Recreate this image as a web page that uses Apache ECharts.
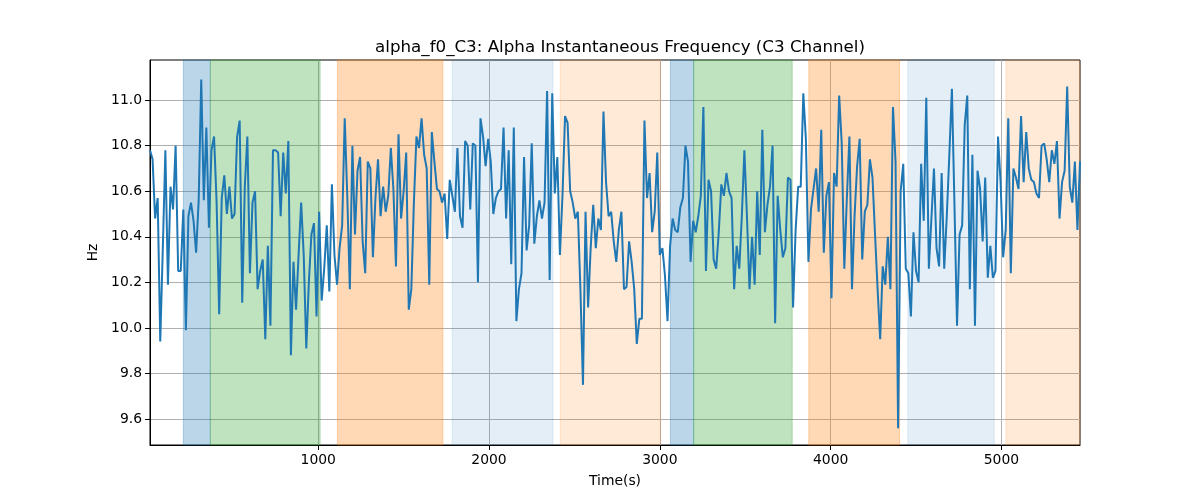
<!DOCTYPE html>
<html>
<head>
<meta charset="utf-8">
<script src="https://cdn.jsdelivr.net/npm/echarts@6/dist/echarts.min.js"></script>
<style>html,body{margin:0;padding:0;background:#fff}#c{width:1200px;height:500px}</style>
</head>
<body>
<div id="c"></div>
<script>
// Sampling: first sample time and step (seconds)
const startTime = 15;
const stepTime = 15;

// Alpha instantaneous frequency values (Hz)
const freqValues = [
10.78,10.74,10.48,10.57,9.94,10.35,10.78,10.19,10.62,10.52,
10.80,10.25,10.25,10.52,9.99,10.49,10.55,10.47,10.33,10.56,
11.09,10.56,10.88,10.44,10.78,10.84,10.55,10.06,10.57,10.67,
10.50,10.62,10.48,10.50,10.84,10.91,10.11,10.62,10.84,10.24,
10.55,10.60,10.17,10.25,10.30,9.95,10.36,10.01,10.78,10.78,
10.77,10.49,10.77,10.59,10.82,9.88,10.29,10.08,10.32,10.55,
10.32,9.91,10.20,10.41,10.46,10.05,10.51,10.12,10.26,10.45,
10.16,10.63,10.32,10.19,10.35,10.45,10.92,10.58,10.17,10.80,
10.41,10.69,10.75,10.38,10.24,10.73,10.70,10.31,10.57,10.74,
10.49,10.62,10.51,10.58,10.79,10.61,10.27,10.85,10.48,10.60,
10.77,10.08,10.17,10.55,10.84,10.79,10.92,10.76,10.70,10.19,
10.86,10.73,10.61,10.60,10.55,10.59,10.39,10.65,10.58,10.51,
10.79,10.49,10.44,10.82,10.80,10.52,10.81,10.80,10.20,10.92,
10.84,10.71,10.83,10.73,10.50,10.57,10.60,10.61,10.88,10.48,
10.78,10.28,10.88,10.03,10.17,10.24,10.75,10.34,10.45,10.81,
10.37,10.49,10.56,10.48,10.55,11.04,10.21,11.03,10.59,10.75,
10.32,10.58,10.93,10.90,10.60,10.55,10.48,10.51,10.17,9.75,
10.51,10.09,10.35,10.54,10.35,10.48,10.43,10.95,10.64,10.49,
10.51,10.38,10.29,10.43,10.51,10.17,10.18,10.38,10.29,10.17,
9.93,10.04,10.04,10.91,10.57,10.68,10.42,10.51,10.77,10.32,
10.35,10.23,10.03,10.36,10.48,10.43,10.42,10.53,10.57,10.80,
10.73,10.29,10.47,10.42,10.49,10.58,10.97,10.25,10.65,10.60,
10.30,10.26,10.42,10.63,10.58,10.68,10.60,10.57,10.17,10.36,
10.26,10.49,10.78,10.49,10.17,10.40,10.19,10.60,10.32,10.87,
10.42,10.54,10.62,10.80,10.02,10.58,10.43,10.31,10.35,10.66,
10.65,10.09,10.43,10.62,10.62,11.03,10.83,10.29,10.52,10.61,
10.70,10.51,10.87,10.33,10.58,10.64,10.13,10.68,10.62,11.02,
10.81,10.26,10.57,10.84,10.17,10.49,10.71,10.83,10.30,10.51,
10.54,10.74,10.66,10.41,10.17,9.95,10.27,10.19,10.40,10.17,
10.97,10.73,9.56,10.60,10.72,10.26,10.24,10.05,10.42,10.25,
10.20,10.72,10.47,11.01,10.26,10.48,10.70,10.35,10.27,10.68,
10.26,10.49,10.76,11.05,10.54,10.01,10.41,10.45,10.89,11.02,
10.17,10.76,10.01,10.69,10.61,10.38,10.66,10.22,10.36,10.22,
10.25,10.84,10.64,10.31,10.43,10.92,10.24,10.70,10.66,10.61,
10.93,10.64,10.86,10.70,10.65,10.64,10.59,10.57,10.80,10.81,
10.74,10.64,10.78,10.72,10.82,10.48,10.64,10.69,11.06,10.62,
10.55,10.73,10.43,10.73
];

// Shaded stage intervals (seconds) and their kind
const bandStarts = [210, 368, 1112, 1784, 2417, 3062, 3198, 3872, 4452, 5026];
const bandEnds   = [368, 1011, 1730, 2374, 3003, 3198, 3775, 4404, 4958, 5460];
const bandKinds  = ['blue','green','orange','lightblue','lightorange','blue','green','orange','lightblue','lightorange'];

// Tick labels
const xTicks = [1000, 2000, 3000, 4000, 5000];
const yTicks = [9.6, 9.8, 10.0, 10.2, 10.4, 10.6, 10.8, 11.0];

const titleText = 'alpha_f0_C3: Alpha Instantaneous Frequency (C3 Channel)';

// styles
const bandColor = {
  blue: 'rgba(31,119,180,0.3)',
  green: 'rgba(44,160,44,0.3)',
  orange: 'rgba(255,127,14,0.3)',
  lightblue: 'rgba(31,119,180,0.12)',
  lightorange: 'rgba(255,127,14,0.16)'
};

const seriesData = freqValues.map((v, i) => [startTime + stepTime * i, v]);
const markData = bandStarts.map((s, i) => [
  { xAxis: s, itemStyle: { color: bandColor[bandKinds[i]], borderColor: bandColor[bandKinds[i]], borderWidth: 1 } },
  { xAxis: bandEnds[i] }
]);

const FONT = 'DejaVu Sans';
const chart = echarts.init(document.getElementById('c'), null, { renderer: 'canvas' });
chart.setOption({
  animation: false,
  backgroundColor: '#ffffff',
  title: {
    text: titleText,
    left: 615, top: 34, textAlign: 'center',
    textStyle: { fontFamily: FONT, fontSize: 16.7, fontWeight: 'normal', color: '#000' }
  },
  grid: { left: 150, right: 120, top: 60, bottom: 55, show: true, borderColor: '#000', borderWidth: 1, backgroundColor: 'transparent' },
  xAxis: {
    type: 'value', min: 15, max: 5460,
    name: 'Time(s)', nameLocation: 'middle', nameGap: 29,
    nameTextStyle: { fontFamily: FONT, fontSize: 13.9, color: '#000' },
    axisLine: { show: true, onZero: false, lineStyle: { color: '#000', width: 1 } },
    axisTick: { show: true, customValues: xTicks, length: 5, lineStyle: { color: '#000' } },
    axisLabel: { customValues: xTicks, margin: 8, fontFamily: FONT, fontSize: 13.9, color: '#000',
      formatter: v => String(Math.round(v)) },
    splitLine: { show: true, lineStyle: { color: '#b0b0b0', width: 1 } }
  },
  yAxis: {
    type: 'value', min: 9.486, max: 11.176,
    name: 'Hz', nameLocation: 'middle', nameGap: 45, nameRotate: 90,
    nameTextStyle: { fontFamily: FONT, fontSize: 13.9, color: '#000' },
    axisLine: { show: true, onZero: false, lineStyle: { color: '#000', width: 1 } },
    axisTick: { show: true, customValues: yTicks, length: 5, lineStyle: { color: '#000' } },
    axisLabel: { customValues: yTicks, margin: 8, fontFamily: FONT, fontSize: 13.9, color: '#000',
      formatter: v => v.toFixed(1) },
    splitLine: { show: true, lineStyle: { color: '#b0b0b0', width: 1 } }
  },
  series: [{
    type: 'line',
    data: seriesData,
    showSymbol: false,
    lineStyle: { color: '#1f77b4', width: 2 },
    itemStyle: { color: '#1f77b4' },
    z: 3,
    markArea: { silent: true, data: markData }
  }]
});
</script>
</body>
</html>
